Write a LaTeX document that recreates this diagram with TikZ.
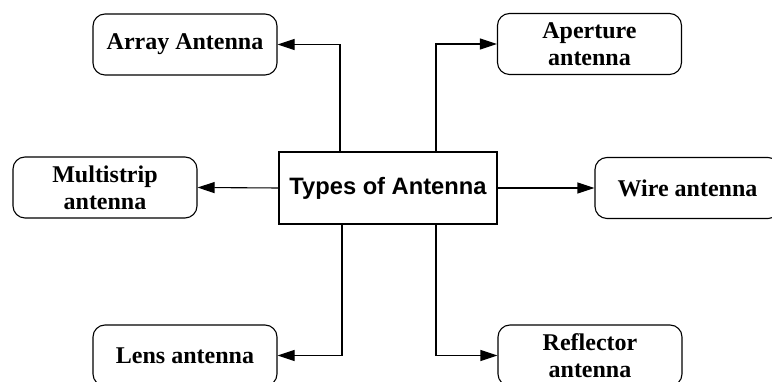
\documentclass[tikz,border=0pt]{standalone}
\usepackage{fontspec}
\setmainfont{Liberation Serif}
\setsansfont{Liberation Sans}
\usetikzlibrary{arrows.meta}
\begin{document}
\begin{tikzpicture}[x=1pt, y=1pt,
    leaf/.style={draw, line width=1.1pt, rounded corners=12pt, minimum width=184pt, minimum height=61pt, inner sep=0pt, align=center, font=\fontsize{24}{27}\selectfont\bfseries},
    hub/.style={draw, line width=1.2pt, minimum width=218pt, minimum height=72pt, inner sep=0pt, font=\fontsize{23.7}{27}\selectfont\sffamily\bfseries},
    arr/.style={line width=1.1pt, -{Triangle[length=17pt, width=11pt]}}]
\useasboundingbox (0,0) rectangle (772,382);
\node[hub] (types) at (388,194){Types of Antenna};
\node[leaf] (array) at (185,337.5){Array Antenna};
\node[leaf] (aperture) at (589.5,338){Aperture\\antenna};
\node[leaf] (multistrip) at (105,194.5){Multistrip\\antenna};
\node[leaf, minimum width=185pt] (wire) at (687.5,194){Wire antenna};
\node[leaf] (lens) at (185,26.5){Lens antenna};
\node[leaf] (reflector) at (590,26.5){Reflector\\antenna};
\draw[arr] ([xshift=-48pt]types.north) |- (array.east);
\draw[arr] ([xshift=48pt]types.north) |- (aperture.west);
\draw[arr] (types.west) -- (multistrip.east);
\draw[arr] (types.east) -- (wire.west);
\draw[arr] ([xshift=-46pt]types.south) |- (lens.east);
\draw[arr] ([xshift=48pt]types.south) |- (reflector.west);
\end{tikzpicture}
\end{document}
